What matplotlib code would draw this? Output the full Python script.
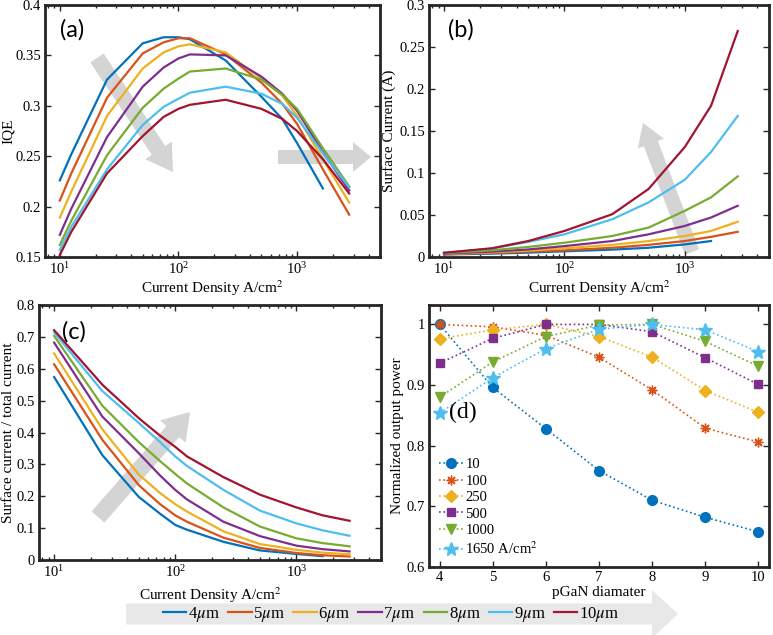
import numpy as np
import matplotlib
matplotlib.use('Agg')
import matplotlib.pyplot as plt
from matplotlib.patches import FancyArrow
from matplotlib.ticker import FormatStrFormatter, LogLocator, NullFormatter

plt.rcParams['font.family'] = ['Liberation Serif', 'DejaVu Serif']
plt.rcParams['mathtext.fontset'] = 'stix'

nan = np.nan
colors = ['#0072BD', '#D95319', '#EDB120', '#7E2F8E', '#77AC30', '#4DBEEE', '#A2142F']
sizes = ['4$\\mu$m', '5$\\mu$m', '6$\\mu$m', '7$\\mu$m', '8$\\mu$m', '9$\\mu$m', '10$\\mu$m']

# (a) IQE vs current density
x_a = [10, 12.5, 25, 50, 75, 100, 125, 250, 500, 750, 1000, 1650, 2750]
iqe = [
    [0.226, 0.252, 0.326, 0.362, 0.368, 0.368, 0.366, 0.345, 0.309, 0.287, 0.263, 0.218, nan],
    [0.206, 0.233, 0.308, 0.352, 0.363, 0.367, 0.367, 0.351, 0.323, 0.302, 0.282, 0.237, 0.192],
    [0.189, 0.215, 0.290, 0.337, 0.353, 0.359, 0.361, 0.353, 0.327, 0.310, 0.290, 0.247, 0.204],
    [0.172, 0.198, 0.269, 0.319, 0.338, 0.347, 0.351, 0.350, 0.329, 0.312, 0.295, 0.254, 0.216],
    [0.162, 0.186, 0.251, 0.298, 0.317, 0.327, 0.334, 0.337, 0.326, 0.311, 0.297, 0.258, 0.220],
    [0.157, 0.180, 0.237, 0.281, 0.299, 0.307, 0.313, 0.319, 0.312, 0.302, 0.288, 0.253, 0.219],
    [0.152, 0.175, 0.233, 0.270, 0.289, 0.297, 0.301, 0.306, 0.297, 0.287, 0.275, 0.247, 0.213],
]

# (b) surface current
x_b = [10, 25, 50, 100, 250, 500, 1000, 1650, 2750]
surf = [
    [0.003, 0.004, 0.0052, 0.0068, 0.0088, 0.011, 0.015, 0.019, nan],
    [0.0032, 0.0048, 0.0064, 0.008, 0.011, 0.0145, 0.019, 0.024, 0.030],
    [0.0036, 0.0056, 0.0076, 0.0104, 0.0145, 0.019, 0.025, 0.031, 0.042],
    [0.004, 0.0064, 0.009, 0.013, 0.019, 0.027, 0.037, 0.047, 0.061],
    [0.0045, 0.008, 0.012, 0.017, 0.025, 0.035, 0.055, 0.071, 0.096],
    [0.005, 0.010, 0.018, 0.027, 0.045, 0.065, 0.092, 0.125, 0.168],
    [0.005, 0.0104, 0.019, 0.031, 0.051, 0.081, 0.131, 0.18, 0.269],
]

# (c) surface / total current
x_c = [10, 25, 50, 75, 100, 125, 250, 500, 1000, 1650, 2750]
ratio = [
    [0.574, 0.329, 0.198, 0.145, 0.11, 0.095, 0.057, 0.030, 0.019, 0.012, nan],
    [0.614, 0.377, 0.235, 0.175, 0.14, 0.12, 0.07, 0.038, 0.022, 0.015, 0.011],
    [0.648, 0.41, 0.268, 0.21, 0.175, 0.152, 0.09, 0.05, 0.032, 0.023, 0.018],
    [0.682, 0.45, 0.335, 0.265, 0.22, 0.19, 0.12, 0.075, 0.045, 0.034, 0.027],
    [0.703, 0.484, 0.37, 0.31, 0.27, 0.24, 0.165, 0.105, 0.068, 0.053, 0.043],
    [0.714, 0.53, 0.43, 0.37, 0.325, 0.295, 0.22, 0.155, 0.115, 0.093, 0.076],
    [0.721, 0.55, 0.445, 0.39, 0.355, 0.325, 0.26, 0.205, 0.165, 0.14, 0.123],
]

# (d) normalized output power vs pGaN diameter
diam = [4, 5, 6, 7, 8, 9, 10]
dens_labels = ['10', '100', '250', '500', '1000', '1650 A/cm$^2$']
power = [
    [1.0, 0.896, 0.828, 0.759, 0.710, 0.682, 0.658],
    [1.0, 0.996, 0.982, 0.946, 0.892, 0.829, 0.806],
    [0.976, 0.991, 1.0, 0.980, 0.946, 0.891, 0.855],
    [0.936, 0.977, 1.0, 1.0, 0.988, 0.945, 0.901],
    [0.880, 0.938, 0.980, 0.999, 1.0, 0.972, 0.931],
    [0.854, 0.912, 0.960, 0.992, 1.0, 0.991, 0.955],
]
d_colors = ['#0072BD', '#D95319', '#EDB120', '#7E2F8E', '#77AC30', '#4DBEEE']
d_markers = ['o', (8, 2, 0), 'D', 's', 'v', '*']
d_ms = [7, 7, 6, 6, 7.5, 10]

W, H = 773, 635
fig = plt.figure(figsize=(W / 100, H / 100), dpi=100)

# overlay for the grey arrows, in pixel coordinates
ov = fig.add_axes([0, 0, 1, 1], zorder=-1)
ov.set_xlim(0, W)
ov.set_ylim(H, 0)
ov.axis('off')

def arrow(x0, y0, x1, y1, w, hw, hl, c='#d4d4d4'):
    ov.add_patch(FancyArrow(x0, y0, x1 - x0, y1 - y0, width=w, head_width=hw,
                            head_length=hl, length_includes_head=True, color=c, lw=0))

arrow(97, 58, 173, 172, 16, 32, 26)
arrow(278, 157, 371, 157, 14, 30, 18)
arrow(692, 252, 643, 123, 15, 28, 22)
arrow(98, 517, 190, 412, 17, 34, 26)
arrow(126, 614, 678, 614, 21, 48, 26, c='#e8e8e8')

def style(ax):
    ax.set_facecolor('none')
    for s in ax.spines.values():
        s.set_linewidth(2)
        s.set_color('#262626')
    ax.tick_params(which='both', direction='in', top=True, right=True,
                   labelsize=10.5, color='#262626', width=1)
    ax.tick_params(which='major', length=4, pad=3)
    ax.tick_params(which='minor', length=2.5)

def logx(ax):
    ax.set_xscale('log')
    ax.set_xlim(7.5, 5000)
    ax.xaxis.set_major_locator(LogLocator(base=10, numticks=10))
    ax.xaxis.set_minor_locator(LogLocator(base=10, subs=np.arange(2, 10), numticks=10))
    ax.xaxis.set_minor_formatter(NullFormatter())
    ax.set_xlabel('Current Density A/cm$^2$', fontsize=11, labelpad=1)

axa = fig.add_axes([45 / W, 1 - 257 / H, 335 / W, 252 / H])
for i in range(7):
    axa.plot(x_a, iqe[i], color=colors[i], lw=1.6)
logx(axa)
axa.set_ylim(0.15, 0.4)
axa.set_yticks(np.arange(0.15, 0.401, 0.05))
axa.yaxis.set_major_formatter(FormatStrFormatter('%g'))
axa.set_ylabel('IQE', fontsize=11, labelpad=0)
style(axa)
axa.text(0.045, 0.9, '(a)', transform=axa.transAxes, fontsize=17,
         family='Lato', va='center')

axb = fig.add_axes([429 / W, 1 - 257 / H, 340 / W, 252 / H])
for i in range(7):
    axb.plot(x_b, surf[i], color=colors[i], lw=1.6)
logx(axb)
axb.set_ylim(0, 0.3)
axb.set_yticks(np.arange(0, 0.301, 0.05))
axb.yaxis.set_major_formatter(FormatStrFormatter('%g'))
axb.set_ylabel('Surface Current (A)', fontsize=11, labelpad=2)
style(axb)
axb.text(0.056, 0.9, '(b)', transform=axb.transAxes, fontsize=17,
         family='Lato', va='center')

axc = fig.add_axes([39 / W, 1 - 560 / H, 342 / W, 255 / H])
for i in range(7):
    axc.plot(x_c, ratio[i], color=colors[i], lw=1.6, label=sizes[i])
logx(axc)
axc.set_ylim(0, 0.8)
axc.set_yticks(np.arange(0, 0.801, 0.1))
axc.yaxis.set_major_formatter(FormatStrFormatter('%g'))
axc.set_ylabel('Surface current / total current', fontsize=11, labelpad=1)
axc.xaxis.labelpad = 4
style(axc)
axc.text(0.067, 0.894, '(c)', transform=axc.transAxes, fontsize=17,
         family='Lato', va='center')

axd = fig.add_axes([429 / W, 1 - 567 / H, 340 / W, 262 / H])
for i in range(6):
    axd.plot(diam, power[i], ls=':', lw=1.2, color=d_colors[i], marker=d_markers[i],
             ms=d_ms[i], mfc=d_colors[i], mec=d_colors[i], label=dens_labels[i])
axd.set_xlim(3.8, 10.2)
axd.set_ylim(0.6, 1.032)
axd.set_xticks(diam)
axd.set_yticks(np.arange(0.6, 1.01, 0.1))
axd.yaxis.set_major_formatter(FormatStrFormatter('%g'))
axd.set_xlabel('pGaN diamater', fontsize=11, labelpad=1)
axd.set_ylabel('Normalized output power', fontsize=11, labelpad=2)
style(axd)
axd.text(0.059, 0.588, '(d)', transform=axd.transAxes, fontsize=17, va='center')
axd.legend(loc='lower left', bbox_to_anchor=(0.0, 0.0), frameon=False, fontsize=10.5,
           handlelength=1.6, labelspacing=0.22, handletextpad=0.2, borderaxespad=0.3)

h, l = axc.get_legend_handles_labels()
fig.legend(h, l, loc='center', bbox_to_anchor=(391 / W, 1 - 614 / H), ncol=7,
           frameon=False, fontsize=12, handlelength=1.4, handletextpad=0.1,
           columnspacing=0.5)

fig.savefig('out.png', dpi=100)
